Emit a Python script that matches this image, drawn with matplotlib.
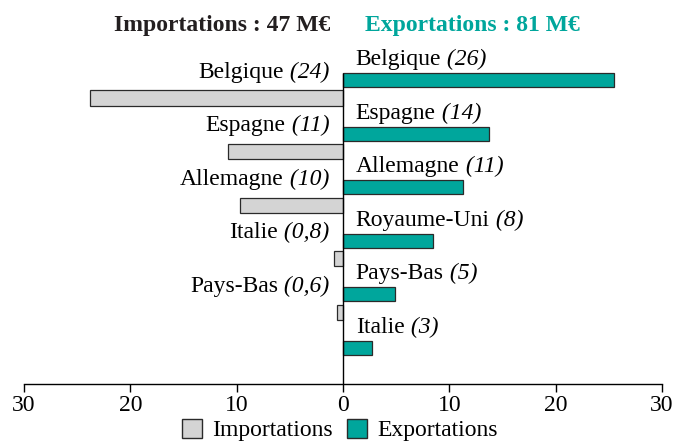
import numpy as np
import matplotlib
matplotlib.use('Agg')
import matplotlib.pyplot as plt
from matplotlib.patches import Patch

plt.rcParams['font.family'] = ['Liberation Serif', 'DejaVu Serif']

# données (M€)
pays_exp = ['Belgique', 'Espagne', 'Allemagne', 'Royaume-Uni', 'Pays-Bas', 'Italie']
val_exp = [25.5, 13.7, 11.3, 8.5, 4.9, 2.7]
lab_exp = ['26', '14', '11', '8', '5', '3']

pays_imp = ['Belgique', 'Espagne', 'Allemagne', 'Italie', 'Pays-Bas']
val_imp = [23.8, 10.8, 9.7, 0.8, 0.6]
lab_imp = ['24', '11', '10', '0,8', '0,6']

ticks = [-30, -20, -10, 0, 10, 20, 30]

TEAL = '#00a69c'
GRIS = '#d4d4d4'
EDGE = '#2a2a2a'
FS = 17

fig = plt.figure(figsize=(6.8, 4.41), dpi=100)
ax = fig.add_axes([24/680, 1-384/441, 638/680, 324/441])

y_exp = np.arange(len(val_exp))
y_imp = np.arange(len(val_imp)) + 0.336

ax.barh(y_exp, val_exp, height=0.26, color=TEAL, edgecolor=EDGE, linewidth=0.9, zorder=2)
ax.barh(y_imp, [-v for v in val_imp], height=0.28, color=GRIS, edgecolor=EDGE, linewidth=0.9, zorder=2)

# étiquettes exportations (à droite)
for y, p, l in zip(y_exp, pays_exp, lab_exp):
    t = ax.text(1.2, y - 0.28, p, ha='left', va='baseline', fontsize=FS)
    ax.annotate(' (' + l + ')', xy=(1, 0), xycoords=t, ha='left', va='bottom',
                fontsize=FS, style='italic')

# étiquettes importations (à gauche)
for y, p, l in zip(y_imp, pays_imp, lab_imp):
    t = ax.text(-1.3, y - 0.38, ' (' + l + ')', ha='right', va='baseline',
                fontsize=FS, style='italic')
    ax.annotate(p, xy=(0, 0), xycoords=t, ha='right', va='bottom', fontsize=FS)

ax.set_xlim(-30, 30)
ax.set_ylim(5.672, -0.373)
ax.vlines(0, -0.13, 5.672, color='black', linewidth=1.0, zorder=3)

ax.set_xticks(ticks)
ax.set_xticklabels([str(abs(t)) for t in ticks], fontsize=17)
ax.tick_params(axis='x', direction='out', length=6, width=1, pad=2)
ax.set_yticks([])
for s in ['top', 'left', 'right']:
    ax.spines[s].set_visible(False)
ax.spines['bottom'].set_linewidth(1)

# titre en deux couleurs
fig.text(330/680, 1-25/441, 'Importations : 47 M€', ha='right', va='center',
         fontsize=17, fontweight='bold', color='#231f20')
fig.text(365/680, 1-25/441, 'Exportations : 81 M€', ha='left', va='center',
         fontsize=17, fontweight='bold', color=TEAL)

handles = [Patch(facecolor=GRIS, edgecolor=EDGE, label='Importations'),
           Patch(facecolor=TEAL, edgecolor=EDGE, label='Exportations')]
fig.legend(handles=handles, loc='center', bbox_to_anchor=(0.5, 1-430/441), ncol=2,
           frameon=False, fontsize=17, handlelength=0.85, handleheight=0.85,
           handletextpad=0.45, columnspacing=0.6, borderpad=0)

fig.savefig('out.png', dpi=100)
